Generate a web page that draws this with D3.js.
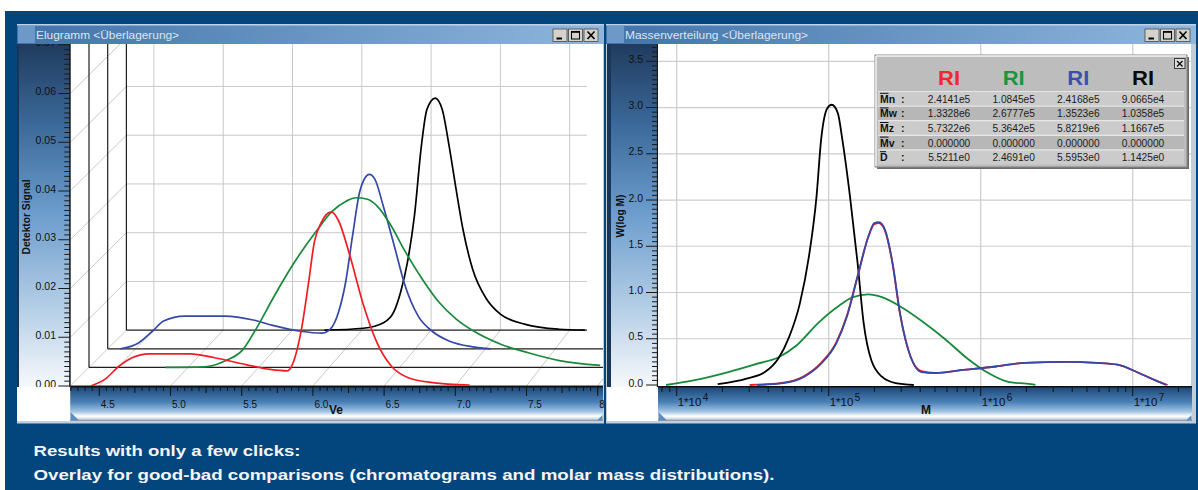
<!DOCTYPE html>
<html>
<head>
<meta charset="utf-8">
<title>Elugramm und Massenverteilung</title>
<script src="https://d3js.org/d3.v7.min.js"></script>
<style>
  body { margin: 0; background: #ffffff; }
  svg text { font-family: "Liberation Sans", Arial, sans-serif; }
</style>
</head>
<body>
<svg width="1198" height="490"></svg>
<script>
// ---------- Elugramm: elution volume Ve and detector signal, one trace per depth layer ----------
const eluBlackVe = [5.73, 6.01, 6.16, 6.23, 6.28, 6.33, 6.38, 6.43, 6.47, 6.53, 6.58, 6.63, 6.68, 6.73, 6.80, 6.90, 7.00, 7.18, 7.42, 7.61];
const eluBlackSignal = [0.0000, 0.0004, 0.0016, 0.0037, 0.0078, 0.0140, 0.0235, 0.0378, 0.0453, 0.0476, 0.0453, 0.0378, 0.0290, 0.0207, 0.0125, 0.0064, 0.0033, 0.0012, 0.0002, 0.0000];

const eluBlueVe = [4.39, 4.52, 4.62, 4.70, 4.85, 5.14, 5.34, 5.48, 5.68, 5.83, 5.89, 5.95, 6.00, 6.05, 6.10, 6.14, 6.17, 6.21, 6.27, 6.35, 6.42, 6.52, 6.62, 6.74, 6.91, 7.04];
const eluBlueSignal = [0.0000, 0.0012, 0.0036, 0.0057, 0.0067, 0.0067, 0.0059, 0.0048, 0.0036, 0.0032, 0.0040, 0.0075, 0.0135, 0.0231, 0.0320, 0.0351, 0.0358, 0.0348, 0.0293, 0.0210, 0.0135, 0.0067, 0.0036, 0.0016, 0.0004, 0.0000];

const eluGreenVe = [4.84, 5.12, 5.26, 5.39, 5.48, 5.61, 5.75, 5.90, 6.02, 6.12, 6.19, 6.27, 6.34, 6.44, 6.53, 6.66, 6.78, 6.90, 7.02, 7.22, 7.41, 7.63, 7.92];
const eluGreenSignal = [0.0000, 0.0001, 0.0013, 0.0037, 0.0078, 0.0146, 0.0214, 0.0276, 0.0320, 0.0341, 0.0348, 0.0345, 0.0331, 0.0290, 0.0242, 0.0181, 0.0133, 0.0099, 0.0075, 0.0047, 0.0030, 0.0014, 0.0004];

const eluRedVe = [4.44, 4.54, 4.64, 4.73, 4.85, 5.14, 5.31, 5.53, 5.70, 5.82, 5.87, 5.92, 5.97, 6.01, 6.06, 6.13, 6.18, 6.26, 6.35, 6.45, 6.55, 6.67, 6.84, 7.10];
const eluRedSignal = [0.0000, 0.0014, 0.0041, 0.0058, 0.0066, 0.0066, 0.0058, 0.0044, 0.0034, 0.0031, 0.0055, 0.0117, 0.0213, 0.0295, 0.0336, 0.0357, 0.0339, 0.0267, 0.0171, 0.0089, 0.0041, 0.0017, 0.0007, 0.0002];

// ---------- Massenverteilung: log10(M) and W(log M) ----------
const massGreenLogM = [3.93, 4.11, 4.34, 4.53, 4.67, 4.79, 4.93, 5.07, 5.16, 5.26, 5.35, 5.49, 5.63, 5.77, 5.91, 6.05, 6.19, 6.33, 6.36];
const massGreenW = [0.00, 0.05, 0.14, 0.23, 0.30, 0.43, 0.67, 0.86, 0.95, 0.98, 0.95, 0.83, 0.67, 0.49, 0.29, 0.13, 0.03, 0.01, 0.00];

const massBlackLogM = [4.27, 4.46, 4.58, 4.67, 4.74, 4.81, 4.87, 4.92, 4.95, 4.99, 5.02, 5.06, 5.09, 5.14, 5.19, 5.23, 5.28, 5.35, 5.44, 5.56];
const massBlackW = [0.01, 0.07, 0.14, 0.29, 0.52, 0.88, 1.39, 2.04, 2.65, 2.99, 3.03, 2.94, 2.65, 2.04, 1.32, 0.67, 0.27, 0.09, 0.02, 0.00];

const massRedLogM = [4.48, 4.68, 4.83, 4.95, 5.05, 5.12, 5.19, 5.26, 5.30, 5.33, 5.37, 5.42, 5.47, 5.54, 5.61, 5.70, 5.87, 6.10, 6.29, 6.57, 6.76, 6.90, 7.04, 7.15, 7.23];
const massRedW = [0.00, 0.02, 0.09, 0.24, 0.46, 0.75, 1.18, 1.60, 1.74, 1.75, 1.67, 1.31, 0.76, 0.30, 0.15, 0.13, 0.16, 0.20, 0.24, 0.25, 0.24, 0.22, 0.13, 0.05, 0.00];

const massBlueLogM = [4.53, 4.70, 4.84, 4.95, 5.05, 5.12, 5.19, 5.26, 5.30, 5.33, 5.37, 5.42, 5.47, 5.54, 5.61, 5.70, 5.87, 6.10, 6.29, 6.57, 6.76, 6.90, 7.04, 7.15, 7.22];
const massBlueW = [0.00, 0.02, 0.09, 0.23, 0.45, 0.74, 1.17, 1.60, 1.75, 1.76, 1.68, 1.32, 0.77, 0.30, 0.14, 0.13, 0.16, 0.20, 0.24, 0.25, 0.24, 0.22, 0.13, 0.05, 0.00];

// ---------- ticks ----------
const veTicks = [4.5, 5.0, 5.5, 6.0, 6.5, 7.0, 7.5, 8.0];
const veTickLabels = ["4.5", "5.0", "5.5", "6.0", "6.5", "7.0", "7.5", "8"];
const signalTicks = [0.00, 0.01, 0.02, 0.03, 0.04, 0.05, 0.06, 0.07];
const wTicks = [0.0, 0.5, 1.0, 1.5, 2.0, 2.5, 3.0, 3.5];
const massDecades = [4, 5, 6, 7];

// ---------- statistics table ----------
const tableHeads = ["RI", "RI", "RI", "RI"];
const tableColors = ["#ee2a2e", "#1a9440", "#3c4fae", "#0a0a0a"];
const tableRowLabels = ["Mn", "Mw", "Mz", "Mv", "D"];
const tableRed = ["2.4141e5", "1.3328e6", "5.7322e6", "0.000000", "5.5211e0"];
const tableGreen = ["1.0845e5", "2.6777e5", "5.3642e5", "0.000000", "2.4691e0"];
const tableBlue = ["2.4168e5", "1.3523e6", "5.8219e6", "0.000000", "5.5953e0"];
const tableBlack = ["9.0665e4", "1.0358e5", "1.1667e5", "0.000000", "1.1425e0"];

const RED = "#f01e23", GREEN = "#17893a", BLUE = "#3548a6", BLACK = "#000000";

const svg = d3.select("svg");
const defs = svg.append("defs");

function gradient(id, horizontal, a, b, stops) {
  const g = defs.append("linearGradient").attr("id", id).attr("gradientUnits", "userSpaceOnUse")
    .attr("x1", horizontal ? a : 0).attr("x2", horizontal ? b : 0)
    .attr("y1", horizontal ? 0 : a).attr("y2", horizontal ? 0 : b);
  stops.forEach(s => g.append("stop").attr("offset", s[0]).attr("stop-color", s[1]));
}
gradient("yPanel", false, 44, 387, [[0, "#203b5f"], [0.25, "#3d6c9d"], [0.5, "#6e9ece"], [0.78, "#b7d0e7"], [1, "#f6f9fc"]]);
gradient("xStrip", false, 387, 421, [[0, "#1d4775"], [0.45, "#4b81b9"], [0.72, "#a2c4e3"], [0.86, "#ffffff"], [0.93, "#d5dee8"], [1, "#7f90a2"]]);
gradient("titleL", true, 17, 604, [[0, "#4173a9"], [1, "#8fb7dd"]]);
gradient("titleR", true, 606, 1196, [[0, "#4173a9"], [1, "#8fb7dd"]]);

// page
svg.append("rect").attr("width", 1198).attr("height", 490).attr("fill", "#ffffff");
svg.append("rect").attr("x", 5).attr("y", 11).attr("width", 1193).attr("height", 479).attr("fill", "#03457d");
[[17, 604], [606, 1196]].forEach(f =>
  svg.append("rect").attr("x", f[0]).attr("y", 24).attr("width", f[1] - f[0]).attr("height", 399.5).attr("fill", "#c4ced8"));

// =================== left window: Elugramm ===================
const eluTop = 44, eluAxisX = 70.3, eluRight = 603;
const layerDx = 18.7, layerDy = 18.6, backRight = 587;
const ySig = d3.scaleLinear().domain([0, 0.07]).range([386, 386 - 0.07 * 4875]);
const layerX = d3.range(4).map(k => d3.scaleLinear().domain([4.5, 8.0])
  .range([99.3 + 18.2 * k, 99.3 + 18.2 * k + 3.5 * (142.4 - 1.27 * k)]));
const edgeX = k => eluAxisX + layerDx * k;
const floorY = k => ySig(0) - layerDy * k;

svg.append("rect").attr("x", 17).attr("y", eluTop).attr("width", eluAxisX - 17).attr("height", 343).attr("fill", "url(#yPanel)");
svg.append("rect").attr("x", 17).attr("y", eluTop).attr("width", 2).attr("height", 343).attr("fill", "#17365a");
svg.append("rect").attr("x", 17).attr("y", 387).attr("width", eluAxisX - 17).attr("height", 34).attr("fill", "#ffffff");
svg.append("rect").attr("x", eluAxisX).attr("y", eluTop).attr("width", eluRight - eluAxisX).attr("height", 343).attr("fill", "#ffffff");

defs.append("clipPath").attr("id", "clipL").append("rect")
  .attr("x", eluAxisX).attr("y", eluTop).attr("width", eluRight - eluAxisX).attr("height", 343);
defs.append("clipPath").attr("id", "clipLy").append("rect")
  .attr("x", 17).attr("y", eluTop).attr("width", eluAxisX - 17).attr("height", 343);
defs.append("clipPath").attr("id", "clipRy").append("rect")
  .attr("x", 607).attr("y", 44).attr("width", 51).attr("height", 343);
const gL = svg.append("g").attr("clip-path", "url(#clipL)");

function seg(g, x1, y1, x2, y2, col, w) {
  g.append("line").attr("x1", x1).attr("y1", y1).attr("x2", x2).attr("y2", y2)
    .attr("stroke", col).attr("stroke-width", w);
}
const gridCol = "#c9c9c9";
// back wall grid
signalTicks.slice(1).forEach(v => seg(gL, edgeX(3), ySig(v) - 3 * layerDy, backRight, ySig(v) - 3 * layerDy, gridCol, 1));
veTicks.slice(0, 7).forEach(ve => seg(gL, layerX[3](ve), eluTop, layerX[3](ve), floorY(3), gridCol, 1));
// side wall diagonals
signalTicks.forEach(v => seg(gL, edgeX(0), ySig(v), edgeX(3), ySig(v) - 3 * layerDy, gridCol, 1));
// floor diagonals
veTicks.forEach(ve => seg(gL, layerX[3](ve), floorY(3), layerX[0](ve), floorY(0), gridCol, 1));
// layer frames
d3.range(4).forEach(k => {
  seg(gL, edgeX(k), eluTop, edgeX(k), floorY(k), "#1e1e1e", 1.2);
  seg(gL, edgeX(k), floorY(k), k === 3 ? backRight : eluRight, floorY(k), "#1e1e1e", 1.2);
});

const eluSeries = [
  { ve: eluBlackVe, sig: eluBlackSignal, layer: 3, color: BLACK },
  { ve: eluBlueVe, sig: eluBlueSignal, layer: 2, color: BLUE },
  { ve: eluGreenVe, sig: eluGreenSignal, layer: 1, color: GREEN },
  { ve: eluRedVe, sig: eluRedSignal, layer: 0, color: RED }
];
eluSeries.forEach(s => {
  const line = d3.line()
    .x(d => layerX[s.layer](d[0]))
    .y(d => ySig(d[1]) - layerDy * s.layer)
    .curve(d3.curveMonotoneX);
  gL.append("path").attr("d", line(d3.zip(s.ve, s.sig)))
    .attr("fill", "none").attr("stroke", s.color).attr("stroke-width", 1.7);
});

// y axis
const gyL = svg.append("g").attr("clip-path", "url(#clipLy)");
d3.range(0, 71).forEach(i => {
  const y = ySig(i / 1000);
  if (y < eluTop) return;
  seg(gyL, eluAxisX - (i % 10 === 0 ? 12 : 6), y, eluAxisX, y, "#1a1a1a", 1);
});
seg(gyL, eluAxisX - 0.5, eluTop, eluAxisX - 0.5, 387, "#1a1a1a", 1.3);
gyL.selectAll("text.tick").data(signalTicks).join("text")
  .attr("x", 56).attr("y", d => ySig(d) + 1.5)
  .attr("text-anchor", "end").attr("font-size", 10.5).attr("fill", "#111")
  .text(d3.format(".2f"));
gyL.append("text").attr("transform", "translate(30,217) rotate(-90)")
  .attr("text-anchor", "middle").attr("font-size", 10.5).attr("font-weight", "bold")
  .attr("textLength", 75).attr("lengthAdjust", "spacingAndGlyphs").attr("fill", "#111").text("Detektor Signal");

// x axis strip
const gxL = svg.append("g");
gxL.append("rect").attr("x", eluAxisX).attr("y", 387).attr("width", eluRight - eluAxisX).attr("height", 34).attr("fill", "url(#xStrip)");
seg(gxL, eluAxisX, 386.8, eluRight, 386.8, "#101010", 1.4);
d3.range(86, 161).forEach(i => {
  const x = layerX[0](i * 0.05);
  if (x < eluAxisX || x > eluRight - 1) return;
  const len = i % 10 === 0 ? 9 : (i % 5 === 0 ? 6 : 4);
  seg(gxL, x, 387, x, 387 + len, "#121212", 1);
});
gxL.selectAll("text.tick").data(veTicks).join("text")
  .attr("x", d => layerX[0](d) + 1.5).attr("y", 407.5)
  .attr("font-size", 10).attr("fill", "#111")
  .text((d, i) => veTickLabels[i]);
gxL.append("text").attr("x", 329).attr("y", 414).attr("font-size", 12).attr("font-weight", "bold").attr("fill", "#111").text("Ve");
gxL.append("path").attr("d", "M70.5,412 L70.5,420.5 L79,420.5 Z").attr("fill", "#5d8dc2");
gxL.append("path").attr("d", "M597,420.5 L602.5,420.5 L602.5,415 Z").attr("fill", "#5d8dc2");

// =================== right window: Massenverteilung ===================
const mTop = 44, mAxisX = 658, mRight = 1191;
const xM = d3.scaleLog().domain([1e4, 1e7]).range([676.7, 1132.7]);
const yW = d3.scaleLinear().domain([0, 3.5]).range([385, 61.3]);

svg.append("rect").attr("x", 607).attr("y", mTop).attr("width", mAxisX - 607).attr("height", 343).attr("fill", "url(#yPanel)");
svg.append("rect").attr("x", 607).attr("y", mTop).attr("width", 4).attr("height", 343).attr("fill", "#17365a");
svg.append("rect").attr("x", 607).attr("y", 387).attr("width", mAxisX - 607).attr("height", 34).attr("fill", "#ffffff");
svg.append("rect").attr("x", mAxisX).attr("y", mTop).attr("width", mRight - mAxisX).attr("height", 343).attr("fill", "#ffffff");

defs.append("clipPath").attr("id", "clipR").append("rect")
  .attr("x", mAxisX).attr("y", mTop).attr("width", mRight - mAxisX).attr("height", 343);
const gR = svg.append("g").attr("clip-path", "url(#clipR)");
wTicks.slice(1).forEach(w => seg(gR, mAxisX, yW(w), mRight, yW(w), "#cdcdcd", 1.2));
massDecades.forEach(d => seg(gR, xM(Math.pow(10, d)), mTop, xM(Math.pow(10, d)), 387, "#cdcdcd", 1.2));

const massSeries = [
  { m: massGreenLogM, w: massGreenW, color: GREEN },
  { m: massBlackLogM, w: massBlackW, color: BLACK },
  { m: massRedLogM, w: massRedW, color: RED },
  { m: massBlueLogM, w: massBlueW, color: BLUE }
];
massSeries.forEach(s => {
  const line = d3.line()
    .x(d => xM(Math.pow(10, d[0])))
    .y(d => yW(d[1]))
    .curve(d3.curveMonotoneX);
  gR.append("path").attr("d", line(d3.zip(s.m, s.w)))
    .attr("fill", "none").attr("stroke", s.color).attr("stroke-width", 1.8);
});

const gyR = svg.append("g").attr("clip-path", "url(#clipRy)");
d3.range(0, 75).forEach(i => {
  const y = yW(i * 0.05);
  if (y < mTop) return;
  seg(gyR, mAxisX - (i % 10 === 0 ? 12 : 6), y, mAxisX, y, "#1a1a1a", 1);
});
seg(gyR, mAxisX - 0.5, mTop, mAxisX - 0.5, 387, "#1a1a1a", 1.3);
gyR.selectAll("text.tick").data(wTicks).join("text")
  .attr("x", 643).attr("y", d => yW(d) + 1.5)
  .attr("text-anchor", "end").attr("font-size", 10.5).attr("fill", "#111")
  .text(d3.format(".1f"));
gyR.append("text").attr("transform", "translate(624,216) rotate(-90)")
  .attr("text-anchor", "middle").attr("font-size", 10.5).attr("font-weight", "bold")
  .attr("textLength", 43).attr("lengthAdjust", "spacingAndGlyphs").attr("fill", "#111").text("W(log M)");

const gxR = svg.append("g");
gxR.append("rect").attr("x", mAxisX).attr("y", 387).attr("width", mRight + 1 - mAxisX).attr("height", 34).attr("fill", "url(#xStrip)");
seg(gxR, mAxisX, 386.8, mRight + 1, 386.8, "#101010", 1.4);
[3, 4, 5, 6, 7].forEach(d => d3.range(1, 10).forEach(m => {
  const x = xM(m * Math.pow(10, d));
  if (x < mAxisX + 1 || x > mRight) return;
  seg(gxR, x, 387, x, 387 + (m === 1 ? 9 : 5), "#121212", 1);
}));
massDecades.forEach(d => {
  const x = xM(Math.pow(10, d));
  gxR.append("text").attr("x", x + 1).attr("y", 405.5)
    .attr("font-family", "'Liberation Serif', 'Times New Roman', serif")
    .attr("font-size", 11.5).attr("fill", "#111").text("1*10");
  gxR.append("text").attr("x", x + 26).attr("y", 401)
    .attr("font-family", "'Liberation Serif', 'Times New Roman', serif")
    .attr("font-size", 10).attr("fill", "#111").text(d);
});
gxR.append("text").attr("x", 921).attr("y", 413.5).attr("font-size", 12).attr("font-weight", "bold").attr("fill", "#111").text("M");
gxR.append("path").attr("d", "M658.5,412 L658.5,420.5 L667,420.5 Z").attr("fill", "#5d8dc2");
gxR.append("path").attr("d", "M1186,420.5 L1191.5,420.5 L1191.5,415 Z").attr("fill", "#5d8dc2");

// statistics panel
const tb = { x0: 875, x1: 1187, y0: 55, y1: 167 };
const gT = svg.append("g");
gT.append("rect").attr("x", tb.x0 + 2).attr("y", tb.y0 + 2).attr("width", tb.x1 - tb.x0).attr("height", tb.y1 - tb.y0).attr("fill", "#6b6b6b");
gT.append("rect").attr("x", tb.x0).attr("y", tb.y0).attr("width", tb.x1 - tb.x0).attr("height", tb.y1 - tb.y0)
  .attr("fill", "#bdbdbd").attr("stroke", "#8a8a8a").attr("stroke-width", 1);
seg(gT, tb.x0 + 1, tb.y0 + 1, tb.x1 - 1, tb.y0 + 1, "#f2f2f2", 1.5);
seg(gT, tb.x0 + 1, tb.y0 + 1, tb.x0 + 1, tb.y1 - 1, "#f2f2f2", 1.5);
const colX = d3.scalePoint().domain(d3.range(4)).range([949, 1143]);
const rowY = d3.scaleBand().domain(tableRowLabels).range([91.5, 164.5]);
const tableCols = [tableRed, tableGreen, tableBlue, tableBlack];
tableRowLabels.forEach((r, i) => {
  const y = rowY(r);
  gT.append("rect").attr("x", tb.x0 + 3).attr("y", y).attr("width", tb.x1 - tb.x0 - 6).attr("height", rowY.bandwidth())
    .attr("fill", i % 2 === 0 ? "#cbcbcb" : "#b7b7b7");
  seg(gT, tb.x0 + 3, y, tb.x1 - 3, y, "#e6e6e6", 1.2);
  gT.append("text").attr("x", 880).attr("y", y + 11.2).attr("font-size", 10.5).attr("font-weight", "bold").attr("fill", "#111").text(r);
  gT.append("text").attr("x", 901).attr("y", y + 11.2).attr("font-size", 10.5).attr("font-weight", "bold").attr("fill", "#111").text(":");
  seg(gT, 880, y + 1.8, r === "D" ? 886 : 888.5, y + 1.8, "#111", 1);
  tableCols.forEach((col, j) => gT.append("text").attr("x", colX(j)).attr("y", y + 11.2)
    .attr("text-anchor", "middle").attr("font-size", 10.2).attr("fill", "#1c1c1c").text(col[i]));
});
tableHeads.forEach((h, j) => gT.append("text").attr("x", colX(j)).attr("y", 84.5)
  .attr("text-anchor", "middle").attr("font-size", 20).attr("font-weight", "bold")
  .attr("textLength", 22).attr("lengthAdjust", "spacingAndGlyphs").attr("fill", tableColors[j]).text(h));
gT.append("rect").attr("x", 1174.5).attr("y", 58.5).attr("width", 10.5).attr("height", 10).attr("fill", "#dcdcdc").attr("stroke", "#3a3a3a");
seg(gT, 1177, 61, 1182.5, 66.5, "#111", 1.4);
seg(gT, 1182.5, 61, 1177, 66.5, "#111", 1.4);

// =================== title bars ===================
function titleBar(x0, x1, grad, title, len) {
  const g = svg.append("g");
  g.append("rect").attr("x", x0).attr("y", 24).attr("width", x1 - x0).attr("height", 20).attr("fill", `url(#${grad})`);
  seg(g, x0, 24.7, x1, 24.7, "#bcd2ea", 1.4);
  g.append("rect").attr("x", x0 + 1).attr("y", 26).attr("width", 17).attr("height", 17).attr("fill", "#6c99c8");
  g.append("text").attr("x", x0 + 19).attr("y", 39).attr("font-size", 11).attr("fill", "#dbe5f0")
    .attr("textLength", len).attr("lengthAdjust", "spacingAndGlyphs").text(title);
  [0, 1, 2].forEach(i => {
    const bx = x1 - 51 + i * 15.5;
    g.append("rect").attr("x", bx).attr("y", 29).attr("width", 14).attr("height", 12.5)
      .attr("fill", "#d5d2cc").attr("stroke", "#4a4a4a").attr("stroke-width", 0.8);
    if (i === 0) seg(g, bx + 3.5, 38.5, bx + 9, 38.5, "#000", 2);
    if (i === 1) {
      g.append("rect").attr("x", bx + 3).attr("y", 31.5).attr("width", 8).attr("height", 7.5).attr("fill", "none").attr("stroke", "#000").attr("stroke-width", 1);
      seg(g, bx + 3, 32, bx + 11, 32, "#000", 1.6);
    }
    if (i === 2) {
      seg(g, bx + 3.5, 31.5, bx + 10.5, 39, "#000", 1.6);
      seg(g, bx + 10.5, 31.5, bx + 3.5, 39, "#000", 1.6);
    }
  });
}
titleBar(17, 604, "titleL", "Elugramm <Überlagerung>", 143);
titleBar(606, 1196, "titleR", "Massenverteilung <Überlagerung>", 183);

// =================== caption ===================
const captionLines = ["Results with only a few clicks:", "Overlay for good-bad comparisons (chromatograms and molar mass distributions)."];
const captionLen = [267, 741];
svg.selectAll("text.caption").data(captionLines).join("text")
  .attr("x", 33.5).attr("y", (d, i) => 456 + i * 23.5)
  .attr("font-family", "'Open Sans', 'Noto Sans', sans-serif").attr("font-weight", "bold").attr("font-size", 15.5)
  .attr("fill", "#f3f5f7").attr("textLength", (d, i) => captionLen[i]).attr("lengthAdjust", "spacingAndGlyphs")
  .text(d => d);
</script>
</body>
</html>
